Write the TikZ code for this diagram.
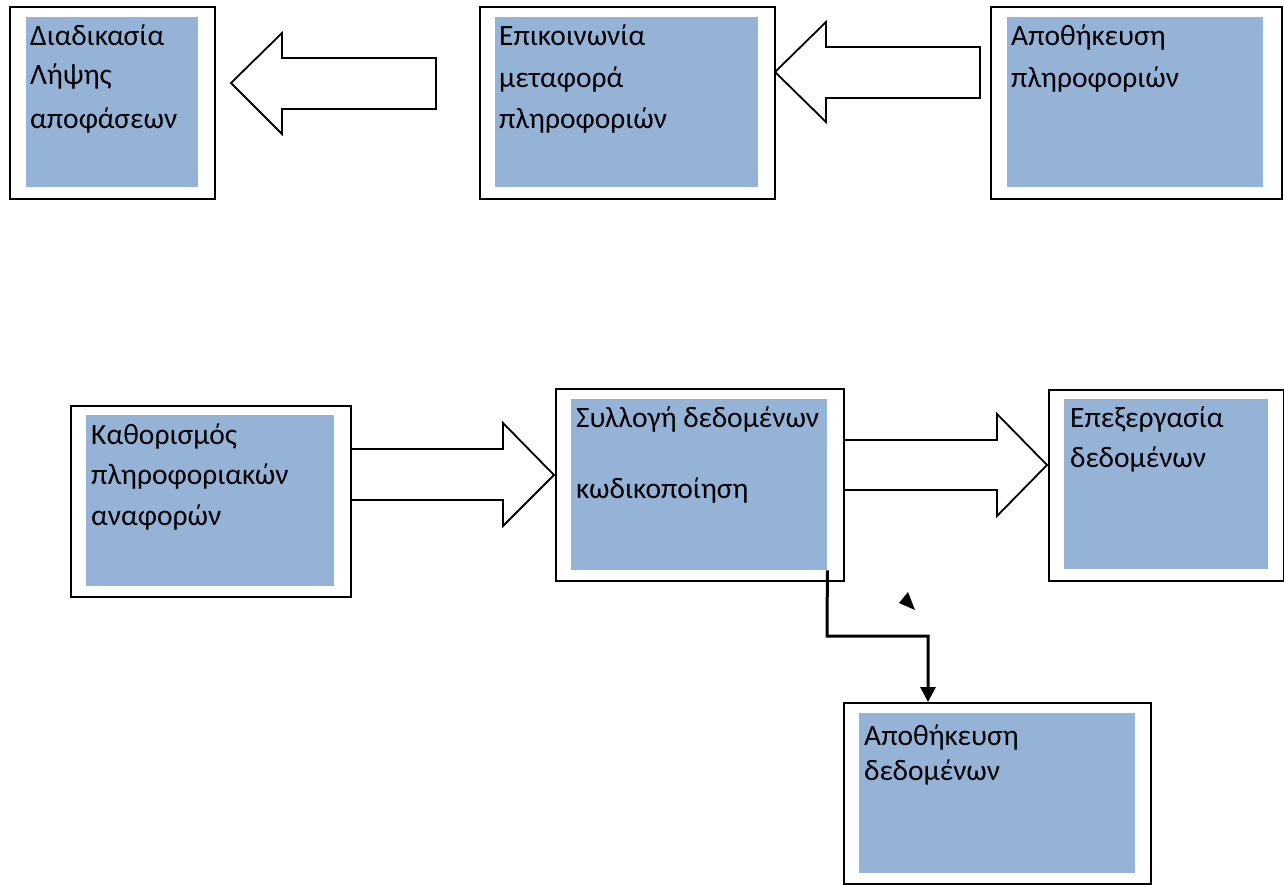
\documentclass[tikz,border=0pt]{standalone}
\usepackage{fontspec}
\setmainfont{Carlito}
\usetikzlibrary{arrows.meta}
\definecolor{boxblue}{RGB}{149,179,215}
\tikzset{
  outerbox/.style={draw=black, line width=2.2pt, fill=white, inner sep=0pt, anchor=north west},
  innerbox/.style={fill=boxblue, draw=none, inner sep=0pt, anchor=north west},
  label/.style={anchor=base west, inner sep=0pt, font=\fontsize{29.5}{34}\selectfont},
  blockarrow/.style={draw=black, line width=1.8pt, fill=white, line join=miter},
  conn/.style={draw=black, line width=3pt}
}
\begin{document}
\begin{tikzpicture}[x=1pt, y=-1pt]
\useasboundingbox (0,0) rectangle (1284,884);

% ---- top row ----
\node[outerbox, minimum width=205pt, minimum height=192pt] (b1) at (9,6) {};
\node[innerbox, minimum width=172pt, minimum height=170pt] (b1in) at (26,17) {};
\node[label] (t1a) at (30,45) {Διαδικασία};
\node[label] (t1b) at (30,84) {Λήψης};
\node[label] (t1c) at (30,128) {αποφάσεων};

\node[outerbox, minimum width=295pt, minimum height=192pt] (b2) at (479,6) {};
\node[innerbox, minimum width=263pt, minimum height=170pt] (b2in) at (495,17) {};
\node[label] (t2a) at (499,45) {Επικοινωνία};
\node[label] (t2b) at (499,87) {μεταφορά};
\node[label] (t2c) at (499,128) {πληροφοριών};

\node[outerbox, minimum width=291pt, minimum height=192pt] (b3) at (990,6) {};
\node[innerbox, minimum width=256pt, minimum height=170pt] (b3in) at (1007,17) {};
\node[label] (t3a) at (1011,45) {Αποθήκευση};
\node[label] (t3b) at (1011,87) {πληροφοριών};

% block arrows (top row, pointing left)
\draw[blockarrow] (231,83) -- (282,33) -- (282,58) -- (436,58) -- (436,109) -- (282,109) -- (282,134) -- cycle;
\draw[blockarrow] (775,72) -- (826,22) -- (826,47) -- (980,47) -- (980,98) -- (826,98) -- (826,122) -- cycle;

% block arrows (bottom row, pointing right), drawn below the boxes
\draw[blockarrow] (350,449) -- (503,449) -- (503,423) -- (554,475) -- (503,526) -- (503,500) -- (350,500) -- cycle;
\draw[blockarrow] (843,440) -- (997,440) -- (997,414) -- (1047,465) -- (997,516) -- (997,490) -- (843,490) -- cycle;

% ---- bottom row ----
\node[outerbox, minimum width=280pt, minimum height=191pt] (b4) at (70,405) {};
\node[innerbox, minimum width=248pt, minimum height=171pt] (b4in) at (86,415) {};
\node[label] (t4a) at (91,444) {Καθορισμός};
\node[label] (t4b) at (91,484) {πληροφοριακών};
\node[label] (t4c) at (91,525) {αναφορών};

\node[outerbox, minimum width=288pt, minimum height=192pt] (b5) at (555,388) {};
\node[innerbox, minimum width=256pt, minimum height=171pt] (b5in) at (571,399) {};
\node[label] (t5a) at (576,427) {Συλλογή δεδομένων};
\node[label] (t5b) at (576,498) {κωδικοποίηση};

\node[outerbox, minimum width=235pt, minimum height=191pt] (b6) at (1048,389) {};
\node[innerbox, minimum width=204pt, minimum height=170pt] (b6in) at (1064,399) {};
\node[label] (t6a) at (1070,427) {Επεξεργασία};
\node[label] (t6b) at (1070,467) {δεδομένων};

\node[outerbox, minimum width=307pt, minimum height=181pt] (b7) at (843,702) {};
\node[innerbox, minimum width=276pt, minimum height=160pt] (b7in) at (859,713) {};
\node[label] (t7a) at (864,745) {Αποθήκευση};
\node[label] (t7b) at (864,780) {δεδομένων};

% elbow connector
\coordinate (e1) at (827,636);
\coordinate (e2) at (928,636);
\coordinate (e3) at (928,702);
\draw[conn, -{Triangle[length=15pt, width=15pt]}] (b5in.south east) -- (e1) -- (e2) -- (e3);

% stray arrowhead
\fill[black] (899,603) -- (908,592) -- (915,610) -- cycle;
\end{tikzpicture}
\end{document}
